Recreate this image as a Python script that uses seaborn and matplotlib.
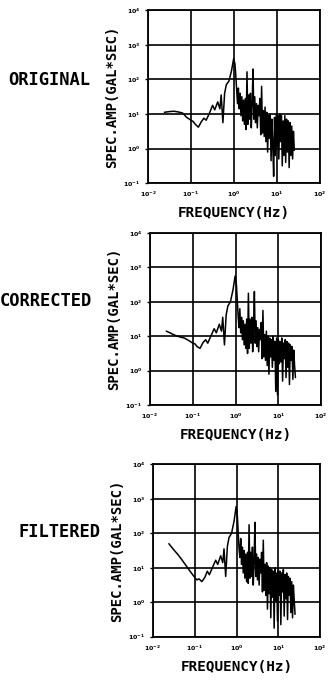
import numpy as np
import pandas as pd
import matplotlib
matplotlib.use("Agg")
import matplotlib.pyplot as plt
import seaborn as sns

# Fourier spectra of one accelerogram at three processing stages.
# Frequencies and amplitudes are stored as decimal exponents (log10).
freq_exp = [
    -1.62, -1.50, -1.40, -1.30, -1.20, -1.10, -1.00, -0.95, -0.90, -0.83,
    -0.76, -0.70, -0.65, -0.58, -0.50, -0.45, -0.38, -0.33, -0.30, -0.26,
    -0.22, -0.18, -0.12, -0.06, -0.01,
    0.02, 0.04, 0.06, 0.08, 0.10, 0.12, 0.14, 0.16, 0.18, 0.20,
    0.22, 0.24, 0.26, 0.28, 0.30, 0.32, 0.34, 0.36, 0.38, 0.40,
    0.42, 0.44, 0.46, 0.48, 0.50, 0.52, 0.54, 0.56, 0.58, 0.60,
    0.62, 0.64, 0.66, 0.68, 0.70, 0.72, 0.74, 0.76, 0.78, 0.80,
    0.82, 0.84, 0.86, 0.88, 0.90, 0.92, 0.94, 0.96, 0.98, 1.00,
    1.02, 1.04, 1.06, 1.08, 1.10, 1.12, 1.14, 1.16, 1.18, 1.20,
    1.22, 1.24, 1.26, 1.28, 1.30, 1.32, 1.34, 1.36, 1.38, 1.40,
]

amp_original_exp = [
    1.05, 1.07, 1.08, 1.06, 1.03, 0.90, 0.82, 0.78, 0.70, 0.62,
    0.78, 0.88, 0.82, 1.00, 1.25, 1.12, 1.35, 1.15, 1.55, 0.75,
    1.60, 1.85, 1.95, 2.25, 2.60,
    2.45, 2.10, 1.70, 1.30, 1.75, 1.15, 1.60, 0.95, 1.50, 0.80,
    1.40, 0.70, 1.45, 0.55, 2.22, 0.70, 1.55, 0.85, 1.60, 0.60,
    1.30, 2.30, 0.85, 1.50, 0.75, 1.30, 0.60, 1.25, 0.95, 1.45,
    0.40, 1.80, 0.45, 1.10, 0.35, 1.20, 0.20, 1.05, -0.10, 0.95,
    0.30, 1.00, -0.35, 0.85, 0.10, -0.80, 0.90, -0.20, 1.00, 0.05,
    0.95, -0.30, 1.00, 0.20, 0.95, -0.50, 0.80, -0.20, 0.95, -0.40,
    0.85, -0.10, 0.80, -0.55, 0.75, -0.20, 0.65, -0.30, 0.50, -0.05,
]

amp_corrected_exp = [
    1.15, 1.08, 1.02, 0.98, 0.95, 0.88, 0.80, 0.78, 0.70, 0.65,
    0.82, 0.90, 0.80, 1.00, 1.22, 1.10, 1.35, 1.15, 1.55, 0.75,
    1.62, 1.88, 2.00, 2.35, 2.75,
    2.50, 2.05, 1.60, 1.25, 1.80, 1.10, 1.55, 0.90, 1.45, 0.75,
    1.35, 0.65, 1.50, 0.50, 2.25, 0.65, 1.50, 0.80, 1.55, 0.55,
    1.25, 2.30, 0.80, 1.45, 0.70, 1.25, 0.55, 1.20, 0.90, 1.40,
    0.35, 1.75, 0.40, 1.05, 0.30, 1.15, 0.15, 1.00, -0.10, 0.95,
    0.40, 0.90, 0.10, 1.00, 0.30, 0.85, -0.60, 0.95, -0.70, 0.90,
    0.20, 0.85, 0.25, 0.95, -0.30, 0.80, 0.35, 0.90, -0.20, 0.85,
    0.10, 0.80, -0.40, 0.75, 0.30, 0.70, -0.25, 0.60, 0.15, -0.20,
]

amp_filtered_exp = [
    1.70, 1.52, 1.38, 1.22, 1.05, 0.88, 0.72, 0.65, 0.68, 0.60,
    0.72, 0.90, 0.80, 1.00, 1.22, 1.10, 1.35, 1.15, 1.55, 0.75,
    1.62, 1.88, 2.00, 2.35, 2.78,
    2.50, 2.00, 1.55, 1.30, 1.85, 1.10, 1.60, 0.85, 1.50, 0.70,
    1.40, 0.60, 1.45, 0.55, 2.25, 0.70, 1.45, 0.75, 1.60, 0.50,
    1.20, 2.32, 0.75, 1.40, 0.65, 1.30, 0.50, 1.25, 0.85, 1.45,
    0.30, 1.80, 0.35, 1.10, 0.20, 1.15, -0.20, 1.05, 0.25, 1.00,
    -0.45, 0.95, 0.15, 0.90, -0.75, 1.00, 0.05, 0.85, -0.55, 0.95,
    0.20, 0.90, -0.65, 0.85, 0.30, 0.95, -0.40, 0.80, 0.10, 0.85,
    -0.50, 0.75, 0.20, 0.70, -0.30, 0.60, -0.45, 0.50, 0.05, -0.35,
]

panel_titles = ["ORIGINAL", "CORRECTED", "FILTERED"]
x_tick_exps = [-2, -1, 0, 1, 2]
y_tick_exps = [-1, 0, 1, 2, 3, 4]
x_label = "FREQUENCY(Hz)"
y_label = "SPEC.AMP(GAL*SEC)"

sns.set_style("white")
plt.rcParams["font.family"] = ["DejaVu Sans Mono", "DejaVu Sans"]
plt.rcParams["mathtext.fontset"] = "dejavusans"
plt.rcParams["text.color"] = "black"
plt.rcParams["axes.labelcolor"] = "black"
plt.rcParams["xtick.color"] = "black"
plt.rcParams["ytick.color"] = "black"

fig = plt.figure(figsize=(3.29, 6.81), dpi=100)

# [left, bottom, width, height] of each spectrum frame, and title position
frames = [
    ([0.450, 0.731, 0.523, 0.254], (0.024, 0.882)),
    ([0.456, 0.405, 0.520, 0.253], (0.000, 0.558)),
    ([0.465, 0.065, 0.508, 0.253], (0.055, 0.219)),
]
series = [amp_original_exp, amp_corrected_exp, amp_filtered_exp]

freq = 10.0 ** np.array(freq_exp)
for (rect, title_pos), amp_exp, title in zip(frames, series, panel_titles):
    df = pd.DataFrame({"freq": freq, "amp": 10.0 ** np.array(amp_exp)})
    ax = fig.add_axes(rect)
    sns.lineplot(data=df, x="freq", y="amp", ax=ax, color="black",
                 lw=1.1, sort=False, estimator=None)
    ax.set_xscale("log")
    ax.set_yscale("log")
    ax.set_xlim(10.0 ** x_tick_exps[0], 10.0 ** x_tick_exps[-1])
    ax.set_ylim(10.0 ** y_tick_exps[0], 10.0 ** y_tick_exps[-1])
    ax.set_xticks([10.0 ** e for e in x_tick_exps])
    ax.set_yticks([10.0 ** e for e in y_tick_exps])
    ax.set_xticklabels([f"$\\mathbf{{10^{{{e}}}}}$" for e in x_tick_exps],
                       fontsize=4.5)
    ax.set_yticklabels([f"$\\mathbf{{10^{{{e}}}}}$" for e in y_tick_exps],
                       fontsize=4.5)
    ax.minorticks_off()
    ax.tick_params(axis="y", length=2.5, width=1.0, pad=3, direction="out", left=True)
    ax.tick_params(axis="x", length=0, pad=5)
    ax.grid(True, color="black", lw=1.2)
    for sp in ax.spines.values():
        sp.set_color("black")
        sp.set_linewidth(1.3)
    ax.set_xlabel(x_label, fontsize=10.3, labelpad=5, fontweight="bold")
    ax.set_ylabel(y_label, fontsize=10, labelpad=3, fontweight="bold")
    fig.text(title_pos[0], title_pos[1], title, fontsize=12.3,
             ha="left", va="center", fontweight="bold")

fig.savefig("out.png", dpi=100)
